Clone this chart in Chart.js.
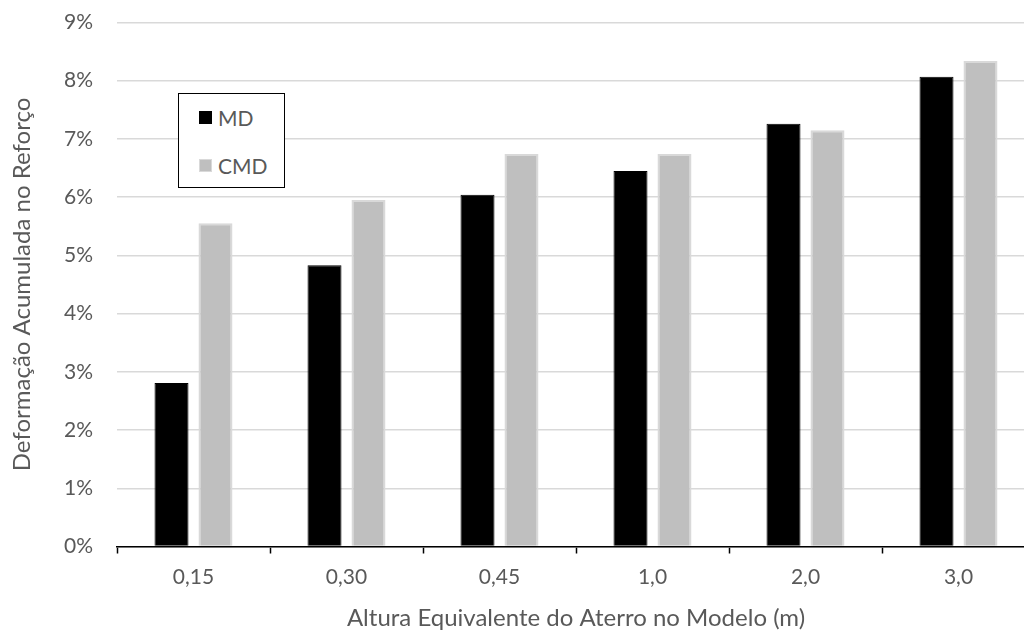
<!DOCTYPE html>
<html>
<head>
<meta charset="utf-8">
<script src="https://cdn.jsdelivr.net/npm/chart.js@4/dist/chart.umd.min.js"></script>
<style>
    html, body { margin: 0; padding: 0; background: #fff; overflow: hidden; }
    #wrap { position: relative; width: 1040px; height: 630px; }
    #legend {
        position: absolute; left: 178px; top: 93px; width: 107px; height: 95px;
        border: 1px solid #000; background: #fff; box-sizing: border-box;
        font-family: Lato, sans-serif; font-size: 21px; color: #595959;
    }
    #legend .item { position: absolute; left: 20px; height: 20px; display: flex; align-items: center; }
    #legend .sw { width: 13px; height: 13px; margin-right: 6px; box-sizing: border-box; }
</style>
</head>
<body>
<div id="wrap">
    <canvas id="chartCanvas" width="1040" height="630"></canvas>
    <div id="legend"></div>
</div>
<script>
    'use strict';

    // data
    var categories = ['0,15', '0,30', '0,45', '1,0', '2,0', '3,0'];
    var mdValues = [2.81, 4.83, 6.04, 6.45, 7.26, 8.07];
    var cmdValues = [5.55, 5.95, 6.74, 6.74, 7.15, 8.34];
    var yTicks = [0, 1, 2, 3, 4, 5, 6, 7, 8, 9];

    var textColor = '#595959';
    var fontName = 'Lato, sans-serif';

    const config = {
        type: 'bar',
        data: {
            labels: categories,
            datasets: [
                {
                    label: 'MD',
                    data: mdValues,
                    backgroundColor: '#000000',
                    borderColor: '#000000',
                    borderWidth: 1,
                },
                {
                    label: 'CMD',
                    data: cmdValues,
                    backgroundColor: '#bfbfbf',
                    borderColor: '#d9d9d9',
                    borderWidth: 2,
                }
            ]
        },
        options: {
            responsive: false,
            animation: false,
            layout: { padding: { top: 22.5, right: 5, bottom: 0, left: 0 } },
            datasets: {
                bar: { categoryPercentage: 0.575, barPercentage: 0.773 }
            },
            plugins: {
                legend: { display: false },
                tooltip: { enabled: false },
            },
            scales: {
                x: {
                    afterFit: function (scale) {
                        scale.height = 83.5;
                        scale.paddingLeft = 0;
                        scale.paddingRight = 0;
                    },
                    grid: {
                        display: true,
                        offset: true,
                        drawOnChartArea: false,
                        drawTicks: true,
                        tickLength: 7,
                        tickWidth: 1.5,
                        tickColor: '#000000',
                    },
                    border: { display: true, color: '#000000', width: 1.5 },
                    ticks: {
                        color: textColor,
                        padding: 11,
                        font: { family: fontName, size: 21 },
                    },
                    title: {
                        display: true,
                        text: 'Altura Equivalente do Aterro no Modelo (m)',
                        color: textColor,
                        font: { family: fontName, size: 24 },
                        padding: { top: 0, bottom: -3 },
                    },
                },
                y: {
                    min: 0,
                    max: 9,
                    afterFit: function (scale) {
                        scale.width = 117;
                        scale.paddingTop = 0;
                        scale.paddingBottom = 0;
                    },
                    afterBuildTicks: function (scale) {
                        scale.ticks = yTicks.map(function (v) { return { value: v }; });
                    },
                    grid: {
                        color: '#d9d9d9',
                        lineWidth: 1.5,
                        drawTicks: false,
                    },
                    border: { display: false },
                    ticks: {
                        color: textColor,
                        padding: 24,
                        font: { family: fontName, size: 21 },
                        callback: function (v) { return v + '%'; },
                    },
                    title: {
                        display: true,
                        text: 'Deformação Acumulada no Reforço',
                        color: textColor,
                        font: { family: fontName, size: 24 },
                        padding: { top: 7.5, bottom: 0 },
                    },
                },
            },
        },
    };

    const ctx = document.getElementById('chartCanvas').getContext('2d');
    const myChart = new Chart(ctx, config);

    // legend box inside the plot, built from the datasets
    var legendEl = document.getElementById('legend');
    var itemTops = [13, 61];
    myChart.data.datasets.forEach(function (ds, i) {
        var item = document.createElement('div');
        item.className = 'item';
        item.style.top = itemTops[i] + 'px';
        var sw = document.createElement('span');
        sw.className = 'sw';
        sw.style.background = ds.backgroundColor;
        sw.style.border = '1px solid ' + ds.borderColor;
        var txt = document.createElement('span');
        txt.textContent = ds.label;
        item.appendChild(sw);
        item.appendChild(txt);
        legendEl.appendChild(item);
    });
</script>
</body>
</html>
